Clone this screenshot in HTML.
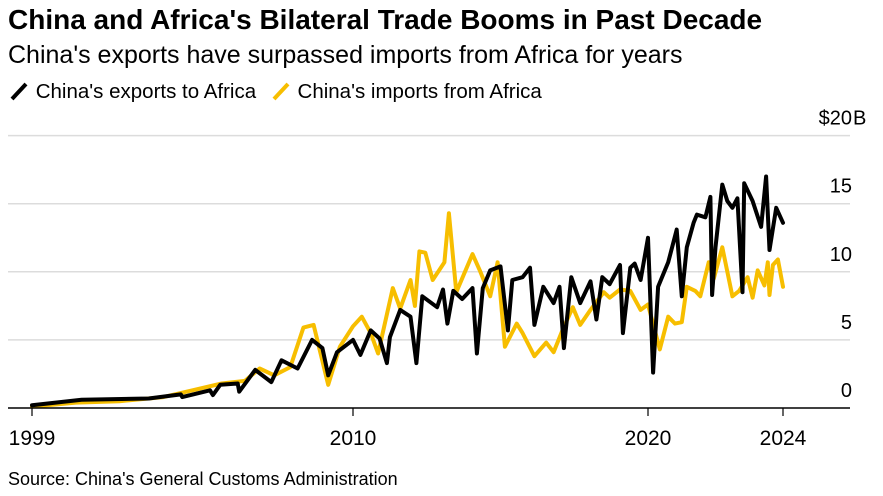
<!DOCTYPE html>
<html><head><meta charset="utf-8"><style>
body{margin:0;background:#fff;font-family:"Liberation Sans",Arial,sans-serif;}
#wrap{position:relative;width:883px;height:496px;overflow:hidden;}
.t{position:absolute;white-space:nowrap;color:#000;line-height:1;}
</style></head><body>
<div id="wrap">
<div class="t" style="left:8px;top:6px;font-size:28px;font-weight:bold;">China and Africa's Bilateral Trade Booms in Past Decade</div>
<div class="t" style="left:8px;top:43px;font-size:25px;">China's exports have surpassed imports from Africa for years</div>
<div class="t" style="left:8px;top:81px;font-size:20.5px;">
<span><svg width="22" height="20" style="vertical-align:-3px"><line x1="4" y1="18" x2="18" y2="3" stroke="#000" stroke-width="4"/></svg> China's exports to Africa</span>
<span style="margin-left:8px"><svg width="22" height="20" style="vertical-align:-3px"><line x1="4" y1="18" x2="18" y2="3" stroke="#f7be00" stroke-width="4"/></svg> China's imports from Africa</span>
</div>
<svg id="chart" width="883" height="496" style="position:absolute;left:0;top:0"></svg>
<div class="t" style="left:8px;top:470px;font-size:18px;">Source: China's General Customs Administration</div>
</div>
<script>
const yTicks=[0,5,10,15,20];
const yTickLabels=["0","5","10","15","$20"];
const xTickYears=[1999,2010,2020,2024];
const xTickLabels=["1999","2010","2020","2024"];
const exportYears=[1999.0,2000.7,2003.0,2004.1,2004.15,2005.1,2005.2,2005.45,2006.05,2006.1,2006.65,2007.2,2007.55,2008.1,2008.6,2008.95,2009.15,2009.45,2010.0,2010.25,2010.6,2010.9,2011.15,2011.25,2011.6,2011.95,2012.15,2012.35,2012.85,2013.05,2013.2,2013.4,2013.7,2014.05,2014.2,2014.4,2014.65,2015.0,2015.25,2015.4,2015.75,2016.0,2016.15,2016.45,2016.8,2017.0,2017.15,2017.4,2017.7,2018.05,2018.25,2018.45,2018.7,2019.05,2019.15,2019.4,2019.55,2019.75,2020.0,2020.15,2020.3,2020.6,2020.85,2021.0,2021.15,2021.35,2021.45,2021.7,2021.85,2021.9,2022.0,2022.2,2022.35,2022.5,2022.65,2022.8,2022.85,2023.1,2023.35,2023.5,2023.6,2023.8,2024.0];
const exportVals=[0.2,0.6,0.7,1.0,0.8,1.3,0.95,1.7,1.8,1.2,2.8,1.9,3.5,2.9,5.0,4.4,2.4,4.1,5.0,3.9,5.7,5.1,3.3,5.2,7.2,6.7,3.3,8.2,7.4,8.7,6.2,8.6,8.0,8.8,4.0,8.8,10.1,10.4,5.7,9.4,9.6,10.3,6.1,8.9,7.7,8.9,4.4,9.6,7.7,9.3,6.5,9.6,9.1,10.5,5.5,10.3,10.6,9.4,12.5,2.6,8.9,10.7,13.1,8.2,11.8,13.6,14.2,14.0,15.5,8.3,11.8,16.4,15.2,14.7,15.4,8.5,16.5,15.2,13.3,17.0,11.6,14.7,13.6];
const importYears=[1999.0,2000.5,2002.0,2003.5,2004.5,2005.5,2006.3,2006.8,2007.3,2007.85,2008.3,2008.65,2009.15,2009.55,2010.0,2010.3,2010.6,2010.85,2011.35,2011.6,2011.95,2012.1,2012.25,2012.45,2012.7,2013.1,2013.25,2013.5,2014.05,2014.3,2014.65,2014.9,2015.15,2015.55,2015.75,2016.15,2016.55,2016.8,2017.1,2017.45,2017.7,2018.05,2018.5,2018.7,2019.05,2019.4,2019.75,2020.0,2020.35,2020.6,2020.8,2021.0,2021.15,2021.4,2021.55,2021.8,2021.95,2022.2,2022.5,2022.7,2022.95,2023.1,2023.25,2023.45,2023.55,2023.6,2023.7,2023.85,2024.0];
const importVals=[0.1,0.4,0.5,0.8,1.3,1.8,2.0,2.9,2.4,3.0,5.9,6.1,1.7,4.5,6.0,6.7,5.5,4.0,8.8,7.3,9.4,7.5,11.5,11.4,9.4,10.7,14.3,8.5,11.3,10.1,8.2,10.7,4.5,6.2,5.5,3.8,4.8,4.1,5.7,7.4,6.1,7.2,8.5,8.1,8.7,8.6,7.2,7.6,4.3,6.7,6.2,6.3,8.9,8.6,8.2,10.7,9.5,11.8,8.2,8.6,9.6,8.1,10.1,9.0,10.7,8.3,10.5,10.9,8.9];

const NS="http://www.w3.org/2000/svg";
const svg=document.getElementById('chart');
const xAnchorsYear=[1999,2010,2020,2024], xAnchorsPx=[32,353,648,783];
function xScale(yr){
  let i=0; while(i<xAnchorsYear.length-2 && yr>xAnchorsYear[i+1]) i++;
  const t=(yr-xAnchorsYear[i])/(xAnchorsYear[i+1]-xAnchorsYear[i]);
  return xAnchorsPx[i]+t*(xAnchorsPx[i+1]-xAnchorsPx[i]);
}
function yScale(v){return 408-v*13.62;}
function mk(tag,attrs){const e=document.createElementNS(NS,tag);for(const k in attrs)e.setAttribute(k,attrs[k]);svg.appendChild(e);return e;}
yTicks.forEach((v,i)=>{
  if(v>0){const g=mk('line',{x1:8,x2:850,y1:yScale(v),y2:yScale(v),stroke:'#dcdcdc','stroke-width':1.5});
  
  }
  const t=mk('text',{x:852,y:yScale(v)-11,'text-anchor':'end','font-size':20,'font-family':'Liberation Sans, Arial, sans-serif',fill:'#000'});
  t.textContent=yTickLabels[i];
  
  
  if(v===20){const b=mk('text',{x:853,y:yScale(v)-11,'font-size':20,'font-family':'Liberation Sans, Arial, sans-serif',fill:'#000'});
  b.textContent='B';
  
  }
});
function series(yrs,vals,color,name){
  const d=yrs.map((y,i)=>(i?'L':'M')+xScale(y).toFixed(1)+','+yScale(vals[i]).toFixed(1)).join('');
  const p=mk('path',{d:d,fill:'none',stroke:color,'stroke-width':4,'stroke-linejoin':'round','stroke-linecap':'round'});
  
  
}
series(importYears,importVals,'#f7be00','imports-line');
series(exportYears,exportVals,'#000','exports-line');
const ax=mk('line',{x1:8,x2:850,y1:408,y2:408,stroke:'#000','stroke-width':1.5});


xTickYears.forEach((yr,i)=>{
  const tk=mk('line',{x1:xScale(yr),x2:xScale(yr),y1:408,y2:416,stroke:'#000','stroke-width':1.2});
  
  
  const t=mk('text',{x:xScale(yr),y:445,'text-anchor':'middle','font-size':21,'font-family':'Liberation Sans, Arial, sans-serif',fill:'#000'});
  t.textContent=xTickLabels[i];
  
  
});
</script>
</body></html>
